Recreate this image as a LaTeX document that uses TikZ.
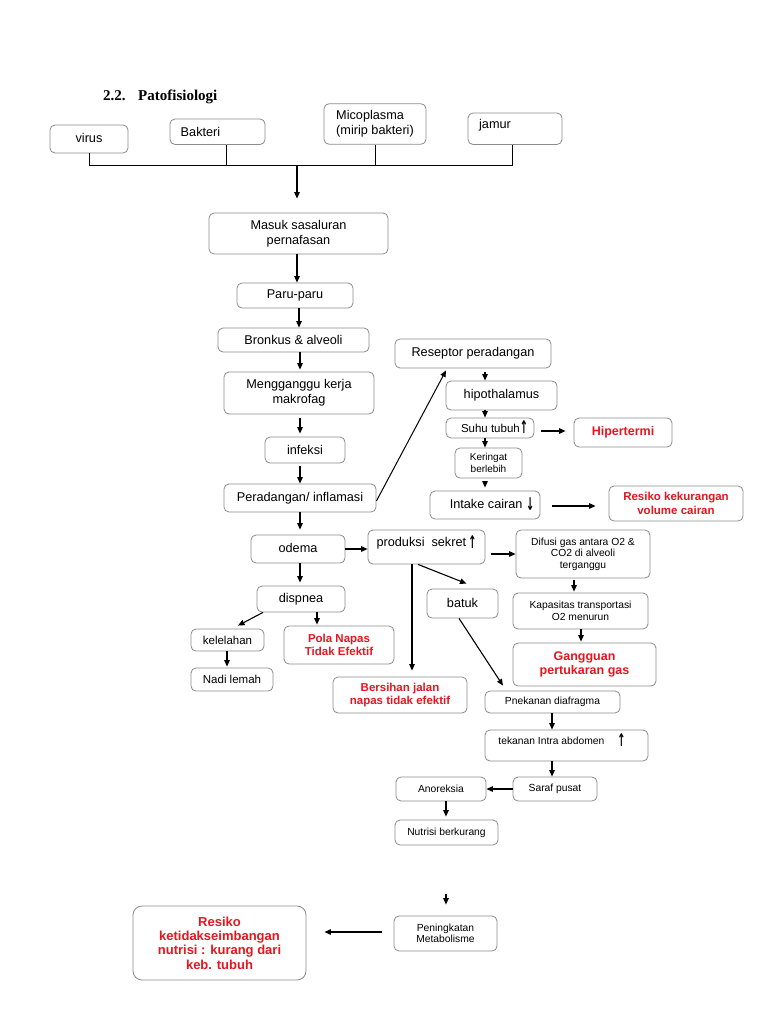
\documentclass[tikz,border=0pt]{standalone}
\usepackage{fontspec}
\usepackage{graphicx}
\setmainfont{Liberation Sans}
\newfontfamily\titlefont{Liberation Serif}
\newfontfamily\arrowfont{DejaVu Sans}
\usetikzlibrary{arrows.meta}
\definecolor{redc}{RGB}{228,22,32}
\definecolor{bord}{RGB}{140,140,140}
\newcommand\fs[2]{\fontsize{#1}{#2}\selectfont}
\newcommand\shiftt[3]{\raisebox{#2}[\height][\depth]{\hspace*{#1}#3\hspace*{-#1}}}
\newcommand\upar{\raisebox{-1.5pt}[0pt][0pt]{\scalebox{0.75}[1.35]{\arrowfont\bfseries\fs{13}{13}↑}}}
\newcommand\dnar{\raisebox{-2.5pt}[0pt][0pt]{\scalebox{0.75}[1.35]{\arrowfont\bfseries\fs{13}{13}↓}}}
\begin{document}
\begin{tikzpicture}[x=1pt, y=-1pt,
  box/.style={draw=bord, line width=0.8pt, rounded corners=5pt, inner sep=0pt, align=center, font=\fs{12.7}{15}},
  small/.style={font=\fs{10.3}{11.5}},
  mid/.style={font=\fs{11.5}{13}},
  redbox/.style={text=redc, font=\bfseries\fs{#1}{13.5}},
  arr/.style={-{Triangle[length=6.5pt,width=5.5pt]}, line width=1.1pt},
  lin/.style={line width=1pt}]
\fill[white] (0,0) rectangle (768,1024);
\useasboundingbox (0,0) rectangle (768,1024);

% title
\node[anchor=west, inner sep=0pt, font=\titlefont\bfseries\fs{15}{18}] (title) at (103,97) {2.2.\hspace{12.5pt}Patofisiologi};

% top sources
\node[box, minimum width=78pt, minimum height=28pt] (virus) at (89,139) {\shiftt{0pt}{1.5pt}{virus}};
\node[box, minimum width=95pt, minimum height=25.5pt] (bakteri) at (217.5,131.75) {\shiftt{-17pt}{0pt}{Bakteri}};
\node[box, minimum width=102pt, minimum height=40.5pt, align=left] (mico) at (375,124) {Micoplasma\\(mirip bakteri)};
\node[box, minimum width=94pt, minimum height=31.5pt] (jamur) at (515,128.75) {\shiftt{-20pt}{3.5pt}{jamur}};

\coordinate (bus) at (297,166);
\coordinate (bl) at ([xshift=8.5pt]bakteri.south);
\coordinate (jl) at ([xshift=-3pt]jamur.south);
\draw[lin] (virus.south) -- (virus.south |- bus) -- (jl |- bus) -- (jl);
\draw[lin] (bl) -- (bl |- bus);
\draw[lin] (mico.south) -- (mico.south |- bus);

% main column
\node[box, minimum width=179pt, minimum height=41pt] (masuk) at (298.5,233.5) {Masuk sasaluran\\pernafasan};
\node[box, minimum width=116pt, minimum height=25pt] (paru) at (295,295.5) {Paru-paru};
\node[box, minimum width=151pt, minimum height=24pt] (bronkus) at (293.5,340) {Bronkus \& alveoli};
\node[box, minimum width=150pt, minimum height=42pt] (makrofag) at (299,393) {Mengganggu kerja\\makrofag};
\node[box, minimum width=80pt, minimum height=26pt] (infeksi) at (305,450) {infeksi};
\node[box, minimum width=152pt, minimum height=28pt] (perad) at (300,498) {Peradangan/ inflamasi};
\node[box, minimum width=94pt, minimum height=28pt] (odema) at (298,549) {\shiftt{0pt}{1pt}{odema}};
\node[box, minimum width=117pt, minimum height=34pt] (produksi) at (426.5,547) {\shiftt{0pt}{3.5pt}{produksi\hspace{0.55em}sekret\,\upar}};
\node[box, minimum width=88pt, minimum height=26pt] (dispnea) at (301,599) {dispnea};
\node[box, mid, minimum width=73pt, minimum height=22pt] (kelelahan) at (227.5,640) {kelelahan};
\node[box, mid, minimum width=82pt, minimum height=23pt] (nadi) at (232,679.5) {Nadi lemah};
\node[box, redbox=11.5, minimum width=110pt, minimum height=38pt] (pola) at (339,645) {Pola Napas\\Tidak Efektif};
\node[box, redbox=11.5, minimum width=134pt, minimum height=36pt] (bersihan) at (400,695) {Bersihan jalan\\napas tidak efektif};
\node[box, minimum width=71pt, minimum height=29pt] (batuk) at (462.5,603.5) {\shiftt{0pt}{1pt}{batuk}};
\node[box, small, minimum width=134pt, minimum height=48pt] (difusi) at (583,554) {Difusi gas antara O2 \&\\CO2 di alveoli\\terganggu};
\node[box, small, minimum width=135pt, minimum height=36pt] (kapasitas) at (580.5,611) {Kapasitas transportasi\\O2 menurun};
\node[box, redbox=12.5, minimum width=143pt, minimum height=43pt] (gangguan) at (584.5,664.5) {Gangguan\\pertukaran gas};
\node[box, small, minimum width=135pt, minimum height=22pt] (pnekanan) at (552.5,702) {Pnekanan diafragma};
\node[box, small, minimum width=163pt, minimum height=31pt] (tekanan) at (566.5,745.5) {\shiftt{-4.5pt}{4.5pt}{tekanan Intra abdomen\hspace{13pt}\upar}};
\node[box, small, minimum width=84pt, minimum height=24pt] (saraf) at (555,789) {Saraf pusat};
\node[box, small, minimum width=90pt, minimum height=24pt] (anoreksia) at (441,789) {Anoreksia};
\node[box, small, minimum width=103pt, minimum height=25pt] (nutrisi) at (446.5,832.5) {Nutrisi berkurang};
\node[box, small, minimum width=103pt, minimum height=35pt] (peningkatan) at (445.5,933.5) {Peningkatan\\Metabolisme};
\node[box, text=redc, font=\bfseries\fs{13}{14.3}, minimum width=173pt, minimum height=74pt, rounded corners=9pt] (resiko2) at (219.5,943) {Resiko\\ketidakseimbangan\\nutrisi : kurang dari\\keb. tubuh};

% right branch
\node[box, minimum width=156pt, minimum height=29pt] (reseptor) at (473,353.5) {Reseptor peradangan};
\node[box, minimum width=111pt, minimum height=29pt] (hipo) at (501.5,395.5) {hipothalamus};
\node[box, mid, minimum width=88pt, minimum height=20pt] (suhu) at (490,428) {\shiftt{4.5pt}{0pt}{Suhu tubuh\upar}};
\node[box, redbox=12.5, minimum width=98pt, minimum height=29pt] (hiper) at (623,432.5) {Hipertermi};
\node[box, font=\fs{10}{11.5}, minimum width=67pt, minimum height=30pt] (keringat) at (488.5,463) {Keringat\\berlebih};
\node[box, minimum width=110pt, minimum height=28pt] (intake) at (485,505) {\shiftt{7pt}{1.5pt}{Intake cairan \dnar}};
\node[box, redbox=11.5, minimum width=134pt, minimum height=35pt] (resiko1) at (676,503.5) {Resiko kekurangan\\volume cairan};

% column coordinates
\coordinate (x297) at (297,0);
\coordinate (x299) at (299,0);
\coordinate (x300) at (300,0);
\coordinate (x317) at (317,0);
\coordinate (x227) at (227,0);
\coordinate (x412) at (412,0);
\coordinate (x485) at (485,0);
\coordinate (x574) at (574,0);
\coordinate (x581) at (581,0);
\coordinate (x552) at (552,0);
\coordinate (x446) at (446,0);
\coordinate (free) at (446,894);

% connectors
\draw[arr, shorten >=14pt] (bus) -- (masuk.north -| bus);
\draw[arr] (masuk.south -| x297) -- (paru.north -| x297);
\draw[arr] (paru.south -| x299) -- (bronkus.north -| x299);
\draw[arr, shorten >=2pt] (bronkus.south -| x300) -- (makrofag.north -| x300);
\draw[arr, shorten <=4pt, shorten >=3pt] (makrofag.south -| x300) -- (infeksi.north -| x300);
\draw[arr, shorten <=3pt] (infeksi.south -| x300) -- (perad.north -| x300);
\draw[arr, shorten >=5pt] (perad.south -| x300) -- (odema.north -| x300);
\draw[arr, shorten >=3pt] (odema.south -| x300) -- (dispnea.north -| x300);
\draw[arr] (odema.east) -- (odema.east -| produksi.west);
\coordinate (pe) at ([yshift=-7pt]produksi.east);
\draw[arr, shorten <=6pt] (pe) -- (pe -| difusi.west);
\draw[arr, shorten <=2pt, shorten >=1pt] (difusi.south -| x574) -- (kapasitas.north -| x574);
\draw[arr, shorten >=1pt] (kapasitas.south -| x581) -- (gangguan.north -| x581);
\draw[arr, shorten >=6pt] (produksi.south -| x412) -- (bersihan.north -| x412);
\draw[arr] ([xshift=-8.5pt]produksi.south) -- ([xshift=4pt,yshift=5pt]batuk.north);
\draw[arr] ([xshift=-3.5pt]batuk.south) -- ([xshift=-49.5pt,yshift=5pt]pnekanan.north);
\draw[arr] ([xshift=-38pt]dispnea.south) -- ([xshift=10.5pt,yshift=3pt]kelelahan.north);
\draw[arr, shorten >=1pt] (dispnea.south -| x317) -- (pola.north -| x317);
\draw[arr, shorten >=1pt] (kelelahan.south -| x227) -- (nadi.north -| x227);
\draw[line width=1pt, -{Triangle[length=6.5pt,width=5.5pt]}] ([yshift=-3pt]perad.east) -- ([xshift=-27pt,yshift=-2pt]reseptor.south);
\draw[arr, shorten <=4pt] (reseptor.south -| x485) -- (hipo.north -| x485);
\draw[arr] (hipo.south -| x485) -- (suhu.north -| x485);
\draw[arr] (suhu.south -| x485) -- (keringat.north -| x485);
\draw[arr, shorten <=3pt, shorten >=3pt] (keringat.south -| x485) -- (intake.north -| x485);
\coordinate (se) at ([yshift=-3pt]suhu.east);
\draw[arr, shorten <=7pt, shorten >=8pt] (se) -- (se -| hiper.west);
\coordinate (ie) at ([yshift=-1pt]intake.east);
\draw[arr, shorten <=12pt, shorten >=13pt] (ie) -- (ie -| resiko1.west);
\draw[arr] (pnekanan.south -| x552) -- (tekanan.north -| x552);
\draw[arr] (tekanan.south -| x552) -- (saraf.north -| x552);
\draw[arr] (saraf.west) -- (saraf.west -| anoreksia.east);
\draw[arr, shorten >=3pt] (anoreksia.south -| x446) -- (nutrisi.north -| x446);
\draw[arr, shorten >=11pt] (free) -- (peningkatan.north -| free);
\coordinate (pw) at ([yshift=1.5pt]peningkatan.west);
\draw[arr, shorten <=12pt, shorten >=18pt] (pw) -- (pw -| resiko2.east);
\end{tikzpicture}
\end{document}
